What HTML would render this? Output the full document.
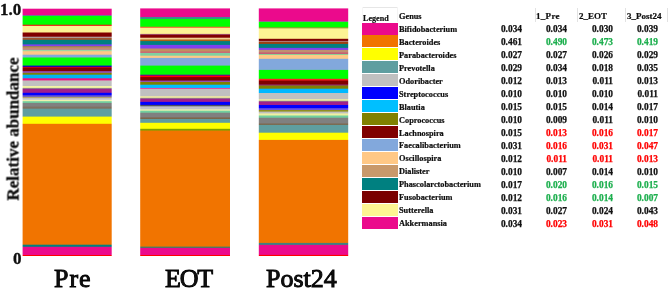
<!DOCTYPE html>
<html><head><meta charset="utf-8"><style>
html,body{margin:0;padding:0;background:#fff;}
body{width:668px;height:295px;position:relative;overflow:hidden;font-family:"Liberation Serif",serif;color:#111;}
.a{will-change:transform;}
.a{position:absolute;white-space:nowrap;}
.bar{position:absolute;}
.b{font-weight:bold;-webkit-text-stroke:0.3px #000;}
.t{font-size:8.3px;font-weight:bold;line-height:10px;-webkit-text-stroke:0.2px #000;}
.n{font-size:9.4px;font-weight:bold;line-height:10px;text-align:right;width:40px;-webkit-text-stroke:0.25px currentColor;}
.xl{font-size:26px;line-height:30px;-webkit-text-stroke:0.9px #000;}
.vl{position:absolute;width:1px;background:#e2e2e2;}
</style></head><body>

<div class="a b" style="left:-0.2px;top:0.8px;font-size:17px;line-height:18px;">1.0</div>
<div class="a b" style="left:12.6px;top:250px;font-size:17px;line-height:18px;">0</div>
<div class="a b" style="left:12.8px;top:128.6px;font-size:17px;line-height:17px;transform:translate(-50%,-50%) rotate(-90deg);">Relative abundance</div>
<div class="bar" style="left:23px;top:8px;width:88px;height:248px;background:linear-gradient(to bottom,#FFFFFF -0.50px 0.20px,#EB0A8C 1.20px 6.70px,#5F8090 7.55px 7.55px,#00FF00 8.40px 16.20px,#E82010 17.20px 17.40px,#FDF394 18.40px 24.00px,#800000 25.00px 28.20px,#B0A0A0 29.20px 29.40px,#A0522D 30.40px 31.30px,#008080 32.30px 35.90px,#8040F0 36.90px 37.60px,#A08050 38.60px 39.00px,#C8996B 40.00px 40.20px,#C86080 41.15px 41.15px,#A0D8A0 42.10px 42.70px,#FFC886 43.70px 46.20px,#82A8DC 47.20px 49.00px,#00FF00 50.00px 57.10px,#0000D0 58.10px 58.30px,#D00020 59.30px 59.30px,#800000 60.30px 62.70px,#9050C0 63.70px 64.30px,#808000 65.30px 66.20px,#00B4F0 67.20px 69.80px,#F0107F 70.80px 71.90px,#C0C0C0 72.90px 77.70px,#FFFFA0 78.70px 79.30px,#909090 80.30px 80.30px,#A0208A 81.30px 84.30px,#0000FF 85.30px 86.70px,#6050D0 87.70px 88.30px,#B0A070 89.30px 89.70px,#C8C8D0 90.70px 91.30px,#F0F0B0 92.30px 92.70px,#70D0A0 93.70px 94.40px,#808080 95.40px 98.10px,#807060 99.10px 100.20px,#5F9EA0 101.20px 108.10px,#FFFF00 109.10px 115.30px,#F17400 116.30px 236.20px,#008080 237.20px 238.30px,#EB0A8C 239.30px 246.50px,#FF0000 247.50px 247.50px,#FFFFFF 248.50px 248.50px);"></div>
<div class="bar" style="left:22px;top:8px;width:1px;height:248px;background:linear-gradient(to bottom,#FFFFFF -0.50px 0.20px,#EB0A8C 1.20px 6.70px,#5F8090 7.55px 7.55px,#00FF00 8.40px 16.20px,#E82010 17.20px 17.40px,#FDF394 18.40px 24.00px,#800000 25.00px 28.20px,#B0A0A0 29.20px 29.40px,#A0522D 30.40px 31.30px,#008080 32.30px 35.90px,#8040F0 36.90px 37.60px,#A08050 38.60px 39.00px,#C8996B 40.00px 40.20px,#C86080 41.15px 41.15px,#A0D8A0 42.10px 42.70px,#FFC886 43.70px 46.20px,#82A8DC 47.20px 49.00px,#00FF00 50.00px 57.10px,#0000D0 58.10px 58.30px,#D00020 59.30px 59.30px,#800000 60.30px 62.70px,#9050C0 63.70px 64.30px,#808000 65.30px 66.20px,#00B4F0 67.20px 69.80px,#F0107F 70.80px 71.90px,#C0C0C0 72.90px 77.70px,#FFFFA0 78.70px 79.30px,#909090 80.30px 80.30px,#A0208A 81.30px 84.30px,#0000FF 85.30px 86.70px,#6050D0 87.70px 88.30px,#B0A070 89.30px 89.70px,#C8C8D0 90.70px 91.30px,#F0F0B0 92.30px 92.70px,#70D0A0 93.70px 94.40px,#808080 95.40px 98.10px,#807060 99.10px 100.20px,#5F9EA0 101.20px 108.10px,#FFFF00 109.10px 115.30px,#F17400 116.30px 236.20px,#008080 237.20px 238.30px,#EB0A8C 239.30px 246.50px,#FF0000 247.50px 247.50px,#FFFFFF 248.50px 248.50px);opacity:0.40;"></div>
<div class="bar" style="left:111px;top:8px;width:1px;height:248px;background:linear-gradient(to bottom,#FFFFFF -0.50px 0.20px,#EB0A8C 1.20px 6.70px,#5F8090 7.55px 7.55px,#00FF00 8.40px 16.20px,#E82010 17.20px 17.40px,#FDF394 18.40px 24.00px,#800000 25.00px 28.20px,#B0A0A0 29.20px 29.40px,#A0522D 30.40px 31.30px,#008080 32.30px 35.90px,#8040F0 36.90px 37.60px,#A08050 38.60px 39.00px,#C8996B 40.00px 40.20px,#C86080 41.15px 41.15px,#A0D8A0 42.10px 42.70px,#FFC886 43.70px 46.20px,#82A8DC 47.20px 49.00px,#00FF00 50.00px 57.10px,#0000D0 58.10px 58.30px,#D00020 59.30px 59.30px,#800000 60.30px 62.70px,#9050C0 63.70px 64.30px,#808000 65.30px 66.20px,#00B4F0 67.20px 69.80px,#F0107F 70.80px 71.90px,#C0C0C0 72.90px 77.70px,#FFFFA0 78.70px 79.30px,#909090 80.30px 80.30px,#A0208A 81.30px 84.30px,#0000FF 85.30px 86.70px,#6050D0 87.70px 88.30px,#B0A070 89.30px 89.70px,#C8C8D0 90.70px 91.30px,#F0F0B0 92.30px 92.70px,#70D0A0 93.70px 94.40px,#808080 95.40px 98.10px,#807060 99.10px 100.20px,#5F9EA0 101.20px 108.10px,#FFFF00 109.10px 115.30px,#F17400 116.30px 236.20px,#008080 237.20px 238.30px,#EB0A8C 239.30px 246.50px,#FF0000 247.50px 247.50px,#FFFFFF 248.50px 248.50px);opacity:0.70;"></div>
<div class="bar" style="left:141px;top:8px;width:89px;height:248px;background:linear-gradient(to bottom,#FFFFFF -0.50px -0.10px,#EB0A8C 0.90px 8.50px,#408890 9.50px 10.40px,#00FF00 11.40px 18.20px,#F06030 19.20px 19.30px,#FDF394 20.30px 25.40px,#A05070 26.35px 26.35px,#800000 27.30px 29.20px,#F0D090 30.20px 31.00px,#B06010 32.00px 32.60px,#008080 33.60px 36.40px,#8040F0 37.40px 40.00px,#C09060 41.00px 43.00px,#D06070 44.00px 44.40px,#80D0A0 45.40px 47.20px,#FFC886 48.20px 49.40px,#82A8DC 50.40px 57.10px,#00FF00 58.10px 66.20px,#6000A0 67.20px 67.20px,#FF0000 68.20px 68.60px,#800000 69.60px 72.10px,#9050C0 73.10px 73.40px,#808000 74.40px 76.20px,#00C0FF 77.20px 79.40px,#E040A0 80.40px 80.40px,#C0C0C0 81.40px 87.80px,#F8F0A0 88.80px 89.30px,#909090 90.20px 90.20px,#A0208A 91.10px 93.40px,#0000FF 94.40px 96.40px,#505060 97.40px 97.80px,#C0C0C8 98.80px 100.80px,#F0F0B0 101.80px 102.20px,#70D0A0 103.20px 104.20px,#808080 105.20px 109.00px,#806040 110.00px 110.40px,#5F9EA0 111.40px 114.30px,#FFFF00 115.30px 120.30px,#80A000 121.30px 122.10px,#F17400 123.10px 238.10px,#408060 239.10px 239.40px,#EB0A8C 240.40px 246.50px,#FF0000 247.50px 247.50px,#FFFFFF 248.50px 248.50px);"></div>
<div class="bar" style="left:140px;top:8px;width:1px;height:248px;background:linear-gradient(to bottom,#FFFFFF -0.50px -0.10px,#EB0A8C 0.90px 8.50px,#408890 9.50px 10.40px,#00FF00 11.40px 18.20px,#F06030 19.20px 19.30px,#FDF394 20.30px 25.40px,#A05070 26.35px 26.35px,#800000 27.30px 29.20px,#F0D090 30.20px 31.00px,#B06010 32.00px 32.60px,#008080 33.60px 36.40px,#8040F0 37.40px 40.00px,#C09060 41.00px 43.00px,#D06070 44.00px 44.40px,#80D0A0 45.40px 47.20px,#FFC886 48.20px 49.40px,#82A8DC 50.40px 57.10px,#00FF00 58.10px 66.20px,#6000A0 67.20px 67.20px,#FF0000 68.20px 68.60px,#800000 69.60px 72.10px,#9050C0 73.10px 73.40px,#808000 74.40px 76.20px,#00C0FF 77.20px 79.40px,#E040A0 80.40px 80.40px,#C0C0C0 81.40px 87.80px,#F8F0A0 88.80px 89.30px,#909090 90.20px 90.20px,#A0208A 91.10px 93.40px,#0000FF 94.40px 96.40px,#505060 97.40px 97.80px,#C0C0C8 98.80px 100.80px,#F0F0B0 101.80px 102.20px,#70D0A0 103.20px 104.20px,#808080 105.20px 109.00px,#806040 110.00px 110.40px,#5F9EA0 111.40px 114.30px,#FFFF00 115.30px 120.30px,#80A000 121.30px 122.10px,#F17400 123.10px 238.10px,#408060 239.10px 239.40px,#EB0A8C 240.40px 246.50px,#FF0000 247.50px 247.50px,#FFFFFF 248.50px 248.50px);opacity:0.80;"></div>
<div class="bar" style="left:259px;top:8px;width:89px;height:248px;background:linear-gradient(to bottom,#FFFFFF -0.50px -0.10px,#EB0A8C 0.90px 12.90px,#808090 13.65px 13.65px,#00FF00 14.40px 18.70px,#90A030 19.70px 19.90px,#FDF394 20.90px 30.30px,#800000 31.30px 32.40px,#B08080 33.40px 33.40px,#A04010 34.40px 35.40px,#008080 36.40px 39.40px,#8040F0 40.40px 41.40px,#C09070 42.40px 44.10px,#D04070 45.10px 45.30px,#90D090 46.30px 46.50px,#FFC886 47.50px 50.30px,#82A8DC 51.30px 61.40px,#00FF00 62.40px 70.30px,#FF2020 71.30px 72.00px,#800000 73.00px 76.00px,#903080 77.00px 77.00px,#808000 78.00px 80.20px,#00B8FF 81.20px 84.50px,#C0C0C0 85.50px 90.70px,#F0F0A0 91.70px 92.30px,#909090 93.10px 93.10px,#A0208A 93.90px 96.50px,#0000FF 97.50px 99.70px,#7050E0 100.70px 101.50px,#909020 102.50px 103.10px,#C0C0C0 104.10px 104.90px,#F0F0A0 105.90px 107.00px,#70D0A0 108.00px 109.20px,#808080 110.20px 115.10px,#806040 116.10px 116.30px,#5F9EA0 117.30px 124.20px,#FFFF00 125.20px 131.40px,#F17400 132.40px 234.40px,#408080 235.40px 236.40px,#EB0A8C 237.40px 246.40px,#FF0000 247.40px 247.50px,#FFFFFF 248.50px 248.50px);"></div>
<div class="bar" style="left:258px;top:8px;width:1px;height:248px;background:linear-gradient(to bottom,#FFFFFF -0.50px -0.10px,#EB0A8C 0.90px 12.90px,#808090 13.65px 13.65px,#00FF00 14.40px 18.70px,#90A030 19.70px 19.90px,#FDF394 20.90px 30.30px,#800000 31.30px 32.40px,#B08080 33.40px 33.40px,#A04010 34.40px 35.40px,#008080 36.40px 39.40px,#8040F0 40.40px 41.40px,#C09070 42.40px 44.10px,#D04070 45.10px 45.30px,#90D090 46.30px 46.50px,#FFC886 47.50px 50.30px,#82A8DC 51.30px 61.40px,#00FF00 62.40px 70.30px,#FF2020 71.30px 72.00px,#800000 73.00px 76.00px,#903080 77.00px 77.00px,#808000 78.00px 80.20px,#00B8FF 81.20px 84.50px,#C0C0C0 85.50px 90.70px,#F0F0A0 91.70px 92.30px,#909090 93.10px 93.10px,#A0208A 93.90px 96.50px,#0000FF 97.50px 99.70px,#7050E0 100.70px 101.50px,#909020 102.50px 103.10px,#C0C0C0 104.10px 104.90px,#F0F0A0 105.90px 107.00px,#70D0A0 108.00px 109.20px,#808080 110.20px 115.10px,#806040 116.10px 116.30px,#5F9EA0 117.30px 124.20px,#FFFF00 125.20px 131.40px,#F17400 132.40px 234.40px,#408080 235.40px 236.40px,#EB0A8C 237.40px 246.40px,#FF0000 247.40px 247.50px,#FFFFFF 248.50px 248.50px);opacity:0.20;"></div>
<div class="bar" style="left:348px;top:8px;width:1px;height:248px;background:linear-gradient(to bottom,#FFFFFF -0.50px -0.10px,#EB0A8C 0.90px 12.90px,#808090 13.65px 13.65px,#00FF00 14.40px 18.70px,#90A030 19.70px 19.90px,#FDF394 20.90px 30.30px,#800000 31.30px 32.40px,#B08080 33.40px 33.40px,#A04010 34.40px 35.40px,#008080 36.40px 39.40px,#8040F0 40.40px 41.40px,#C09070 42.40px 44.10px,#D04070 45.10px 45.30px,#90D090 46.30px 46.50px,#FFC886 47.50px 50.30px,#82A8DC 51.30px 61.40px,#00FF00 62.40px 70.30px,#FF2020 71.30px 72.00px,#800000 73.00px 76.00px,#903080 77.00px 77.00px,#808000 78.00px 80.20px,#00B8FF 81.20px 84.50px,#C0C0C0 85.50px 90.70px,#F0F0A0 91.70px 92.30px,#909090 93.10px 93.10px,#A0208A 93.90px 96.50px,#0000FF 97.50px 99.70px,#7050E0 100.70px 101.50px,#909020 102.50px 103.10px,#C0C0C0 104.10px 104.90px,#F0F0A0 105.90px 107.00px,#70D0A0 108.00px 109.20px,#808080 110.20px 115.10px,#806040 116.10px 116.30px,#5F9EA0 117.30px 124.20px,#FFFF00 125.20px 131.40px,#F17400 132.40px 234.40px,#408080 235.40px 236.40px,#EB0A8C 237.40px 246.40px,#FF0000 247.40px 247.50px,#FFFFFF 248.50px 248.50px);opacity:0.20;"></div>
<div class="a xl" style="left:53.5px;top:264px;letter-spacing:1px;">Pre</div>
<div class="a xl" style="left:165px;top:264px;letter-spacing:-1.2px;">EOT</div>
<div class="a xl" style="left:266px;top:264px;letter-spacing:0px;">Post24</div>
<div class="a" style="left:362px;top:7px;width:36px;height:1px;background:#e6e6e6;"></div>
<div class="a" style="left:362px;top:7px;width:1px;height:15px;background:#f6f6f6;"></div>
<div class="a" style="left:397px;top:7px;width:1px;height:15px;background:#f3f3f3;"></div>
<div class="a t" style="left:363px;top:13.7px;font-size:8.1px;">Legend</div>
<div class="a t" style="left:399px;top:11.7px;">Genus</div>
<div class="a t" style="left:535.6px;top:11px;font-size:9px;letter-spacing:0.3px;">1_Pre</div>
<div class="a t" style="left:578.8px;top:11px;font-size:9px;letter-spacing:0px;">2_EOT</div>
<div class="a t" style="left:626.9px;top:11px;font-size:9px;letter-spacing:0px;">3_Post24</div>
<div class="vl" style="left:535.0px;top:8px;height:14px;"></div>
<div class="vl" style="left:577.1px;top:8px;height:14px;"></div>
<div class="vl" style="left:625.0px;top:8px;height:14px;"></div>
<div class="vl" style="left:666.5px;top:8px;height:14px;"></div>
<div class="a" style="left:362px;top:22.50px;width:35.5px;height:11.5px;background:#EB0A8C;"></div>
<div class="a t" style="left:399px;top:24.90px;">Bifidobacterium</div>
<div class="a n" style="left:482px;top:24.30px;">0.034</div>
<div class="a n" style="left:527px;top:24.30px;color:#111;">0.034</div>
<div class="a n" style="left:572.5px;top:24.30px;color:#111;">0.030</div>
<div class="a n" style="left:617.7px;top:24.30px;color:#111;">0.039</div>
<div class="a" style="left:362px;top:35.45px;width:35.5px;height:11.5px;background:#F17400;"></div>
<div class="a t" style="left:399px;top:37.85px;">Bacteroides</div>
<div class="a n" style="left:482px;top:37.25px;">0.461</div>
<div class="a n" style="left:527px;top:37.25px;color:#1DAF4E;">0.490</div>
<div class="a n" style="left:572.5px;top:37.25px;color:#1DAF4E;">0.473</div>
<div class="a n" style="left:617.7px;top:37.25px;color:#1DAF4E;">0.419</div>
<div class="a" style="left:362px;top:48.40px;width:35.5px;height:11.5px;background:#FFFF00;"></div>
<div class="a t" style="left:399px;top:50.80px;">Parabacteroides</div>
<div class="a n" style="left:482px;top:50.20px;">0.027</div>
<div class="a n" style="left:527px;top:50.20px;color:#111;">0.027</div>
<div class="a n" style="left:572.5px;top:50.20px;color:#111;">0.026</div>
<div class="a n" style="left:617.7px;top:50.20px;color:#111;">0.029</div>
<div class="a" style="left:362px;top:61.35px;width:35.5px;height:11.5px;background:#5F9EA0;"></div>
<div class="a t" style="left:399px;top:63.75px;">Prevotella</div>
<div class="a n" style="left:482px;top:63.15px;">0.029</div>
<div class="a n" style="left:527px;top:63.15px;color:#111;">0.034</div>
<div class="a n" style="left:572.5px;top:63.15px;color:#111;">0.018</div>
<div class="a n" style="left:617.7px;top:63.15px;color:#111;">0.035</div>
<div class="a" style="left:362px;top:74.30px;width:35.5px;height:11.5px;background:#C0C0C0;"></div>
<div class="a t" style="left:399px;top:76.70px;">Odoribacter</div>
<div class="a n" style="left:482px;top:76.10px;">0.012</div>
<div class="a n" style="left:527px;top:76.10px;color:#111;">0.013</div>
<div class="a n" style="left:572.5px;top:76.10px;color:#111;">0.011</div>
<div class="a n" style="left:617.7px;top:76.10px;color:#111;">0.013</div>
<div class="a" style="left:362px;top:87.25px;width:35.5px;height:11.5px;background:#0000FF;"></div>
<div class="a t" style="left:399px;top:89.65px;">Streptococcus</div>
<div class="a n" style="left:482px;top:89.05px;">0.010</div>
<div class="a n" style="left:527px;top:89.05px;color:#111;">0.010</div>
<div class="a n" style="left:572.5px;top:89.05px;color:#111;">0.010</div>
<div class="a n" style="left:617.7px;top:89.05px;color:#111;">0.011</div>
<div class="a" style="left:362px;top:100.20px;width:35.5px;height:11.5px;background:#00BFFF;"></div>
<div class="a t" style="left:399px;top:102.60px;">Blautia</div>
<div class="a n" style="left:482px;top:102.00px;">0.015</div>
<div class="a n" style="left:527px;top:102.00px;color:#111;">0.015</div>
<div class="a n" style="left:572.5px;top:102.00px;color:#111;">0.014</div>
<div class="a n" style="left:617.7px;top:102.00px;color:#111;">0.017</div>
<div class="a" style="left:362px;top:113.15px;width:35.5px;height:11.5px;background:#808000;"></div>
<div class="a t" style="left:399px;top:115.55px;">Coprococcus</div>
<div class="a n" style="left:482px;top:114.95px;">0.010</div>
<div class="a n" style="left:527px;top:114.95px;color:#111;">0.009</div>
<div class="a n" style="left:572.5px;top:114.95px;color:#111;">0.011</div>
<div class="a n" style="left:617.7px;top:114.95px;color:#111;">0.010</div>
<div class="a" style="left:362px;top:126.10px;width:35.5px;height:11.5px;background:#800000;"></div>
<div class="a t" style="left:399px;top:128.50px;">Lachnospira</div>
<div class="a n" style="left:482px;top:127.90px;">0.015</div>
<div class="a n" style="left:527px;top:127.90px;color:#FF0000;">0.013</div>
<div class="a n" style="left:572.5px;top:127.90px;color:#FF0000;">0.016</div>
<div class="a n" style="left:617.7px;top:127.90px;color:#FF0000;">0.017</div>
<div class="a" style="left:362px;top:139.05px;width:35.5px;height:11.5px;background:#82A8DC;"></div>
<div class="a t" style="left:399px;top:141.45px;">Faecalibacterium</div>
<div class="a n" style="left:482px;top:140.85px;">0.031</div>
<div class="a n" style="left:527px;top:140.85px;color:#FF0000;">0.016</div>
<div class="a n" style="left:572.5px;top:140.85px;color:#FF0000;">0.031</div>
<div class="a n" style="left:617.7px;top:140.85px;color:#FF0000;">0.047</div>
<div class="a" style="left:362px;top:152.00px;width:35.5px;height:11.5px;background:#FFC886;"></div>
<div class="a t" style="left:399px;top:154.40px;">Oscillospira</div>
<div class="a n" style="left:482px;top:153.80px;">0.012</div>
<div class="a n" style="left:527px;top:153.80px;color:#FF0000;">0.011</div>
<div class="a n" style="left:572.5px;top:153.80px;color:#FF0000;">0.011</div>
<div class="a n" style="left:617.7px;top:153.80px;color:#FF0000;">0.013</div>
<div class="a" style="left:362px;top:164.95px;width:35.5px;height:11.5px;background:#C8996B;"></div>
<div class="a t" style="left:399px;top:167.35px;">Dialister</div>
<div class="a n" style="left:482px;top:166.75px;">0.010</div>
<div class="a n" style="left:527px;top:166.75px;color:#111;">0.007</div>
<div class="a n" style="left:572.5px;top:166.75px;color:#111;">0.014</div>
<div class="a n" style="left:617.7px;top:166.75px;color:#111;">0.010</div>
<div class="a" style="left:362px;top:177.90px;width:35.5px;height:11.5px;background:#008080;"></div>
<div class="a t" style="left:399px;top:180.30px;">Phascolarctobacterium</div>
<div class="a n" style="left:482px;top:179.70px;">0.017</div>
<div class="a n" style="left:527px;top:179.70px;color:#1DAF4E;">0.020</div>
<div class="a n" style="left:572.5px;top:179.70px;color:#1DAF4E;">0.016</div>
<div class="a n" style="left:617.7px;top:179.70px;color:#1DAF4E;">0.015</div>
<div class="a" style="left:362px;top:190.85px;width:35.5px;height:11.5px;background:#7A0000;"></div>
<div class="a t" style="left:399px;top:193.25px;">Fusobacterium</div>
<div class="a n" style="left:482px;top:192.65px;">0.012</div>
<div class="a n" style="left:527px;top:192.65px;color:#1DAF4E;">0.016</div>
<div class="a n" style="left:572.5px;top:192.65px;color:#1DAF4E;">0.014</div>
<div class="a n" style="left:617.7px;top:192.65px;color:#1DAF4E;">0.007</div>
<div class="a" style="left:362px;top:203.80px;width:35.5px;height:11.5px;background:#FDF492;"></div>
<div class="a t" style="left:399px;top:206.20px;">Sutterella</div>
<div class="a n" style="left:482px;top:205.60px;">0.031</div>
<div class="a n" style="left:527px;top:205.60px;color:#111;">0.027</div>
<div class="a n" style="left:572.5px;top:205.60px;color:#111;">0.024</div>
<div class="a n" style="left:617.7px;top:205.60px;color:#111;">0.043</div>
<div class="a" style="left:362px;top:216.75px;width:35.5px;height:11.5px;background:#EB0A8C;"></div>
<div class="a t" style="left:399px;top:219.15px;">Akkermansia</div>
<div class="a n" style="left:482px;top:218.55px;">0.034</div>
<div class="a n" style="left:527px;top:218.55px;color:#FF0000;">0.023</div>
<div class="a n" style="left:572.5px;top:218.55px;color:#FF0000;">0.031</div>
<div class="a n" style="left:617.7px;top:218.55px;color:#FF0000;">0.048</div>
</body></html>
